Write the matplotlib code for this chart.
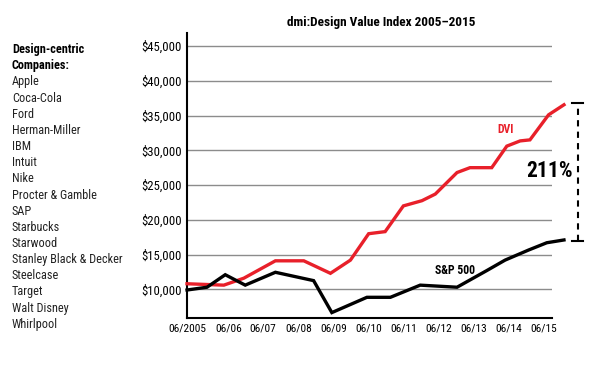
import matplotlib
matplotlib.use("Agg")
import matplotlib.pyplot as plt
from matplotlib import font_manager

# Werte (x in Jahren)
dvi_x = [2005.32, 2006.37, 2006.94, 2007.84, 2008.65, 2009.41, 2009.98, 2010.50, 2010.97,
         2011.49, 2012.02, 2012.40, 2013.02, 2013.39, 2014.01, 2014.44, 2014.82, 2015.10,
         2015.63, 2016.07]
dvi_y = [10800, 10600, 11600, 14100, 14100, 12300, 14200, 18000, 18300,
         22000, 22750, 23700, 26800, 27500, 27500, 30600, 31350, 31500,
         35100, 36550]
sp_x = [2005.32, 2005.89, 2006.41, 2006.98, 2007.84, 2008.93, 2009.45, 2010.45, 2011.12,
        2011.97, 2013.02, 2013.87, 2014.39, 2015.06, 2015.58, 2016.07]
sp_y = [9900, 10300, 12100, 10600, 12450, 11250, 6650, 8850, 8850,
        10600, 10300, 12700, 14200, 15650, 16700, 17100]

tick_pos = [2005.33, 2006.5, 2007.47, 2008.5, 2009.5, 2010.5, 2011.5, 2012.5, 2013.5, 2014.5, 2015.5]
tick_labels = ["06/2005", "06/06", "06/07", "06/08", "06/09", "06/10", "06/11", "06/12",
               "06/13", "06/14", "06/15"]
y_ticks = [10000, 15000, 20000, 25000, 30000, 35000, 40000, 45000]

companies = ["Apple", "Coca-Cola", "Ford", "Herman-Miller", "IBM", "Intuit", "Nike",
             "Procter & Gamble", "SAP", "Starbucks", "Starwood", "Stanley Black & Decker",
             "Steelcase", "Target", "Walt Disney", "Whirlpool"]

gain = "211%"

# schmale Schrift suchen, sonst Lato
names = set(f.name for f in font_manager.fontManager.ttflist)
font = "Lato"
for cand in ["Roboto Condensed", "Liberation Sans Narrow", "Open Sans Condensed"]:
    if cand in names:
        font = cand
        break
plt.rcParams['font.family'] = [font, 'DejaVu Sans']

RED = "#e8202a"

fig = plt.figure(figsize=(6, 3.67), dpi=100)
ax = fig.add_axes([0.3117, 0.1327, 0.6078, 0.7773])

ax.plot(dvi_x, dvi_y, color=RED, lw=2.4, clip_on=False, solid_joinstyle='miter', zorder=3)
ax.plot(sp_x, sp_y, color="black", lw=2.4, clip_on=False, solid_joinstyle='miter', zorder=3)

ax.set_xlim(2005.32, 2015.72)
ax.set_ylim(5830, 46870)
ax.set_yticks(y_ticks)
ax.set_yticklabels(["${:,}".format(v) for v in y_ticks], fontsize=9.2)
ax.set_xticks(tick_pos)
ax.set_xticklabels(tick_labels, fontsize=8.2)
ax.tick_params(length=0, pad=3.5)
ax.grid(axis='y', color="#8c8c8c", lw=1)
ax.set_axisbelow(True)
for s in ["top", "right"]:
    ax.spines[s].set_visible(False)
ax.spines["left"].set_linewidth(1.5)
ax.spines["bottom"].set_linewidth(1.5)

# Beschriftung der Linien
ax.text(2014.41, 33060, "DVI", color=RED, fontsize=8.5, fontweight="bold",
        ha="center", va="center")
ax.text(2012.96, 12690, "S&P 500", color="black", fontsize=8.5, fontweight="bold",
        ha="center", va="center")

# Klammer 211%
bx = 2016.46
ax.plot([bx, bx], [sp_y[-1] - 100, 36850], color="black", lw=1.5, ls=(0, (3, 2.5)),
        clip_on=False)
ax.plot([bx - 0.15, bx + 0.15], [36850, 36850], color="black", lw=1.5, clip_on=False)
ax.plot([bx - 0.15, bx + 0.15], [sp_y[-1] - 100, sp_y[-1] - 100], color="black", lw=1.5,
        clip_on=False)
ax.text(2015.66, 26950, gain, fontsize=15.5, fontweight="bold", ha="center", va="center")

fig.text(0.635, 0.94, "dmi:Design Value Index 2005\u20132015", fontsize=9.5,
         fontweight="bold", ha="center", va="center")

# Firmenliste
fig.text(0.02, 1 - 50 / 367, "Design-centric", fontsize=8.8, fontweight="bold", va="center")
fig.text(0.02, 1 - 66 / 367, "Companies:", fontsize=8.8, fontweight="bold", va="center")
for i, c in enumerate(companies):
    fig.text(0.02, 1 - (82 + i * 16.15) / 367, c, fontsize=8.8, va="center",
             color="#222222")

fig.savefig("out.png", dpi=100)
